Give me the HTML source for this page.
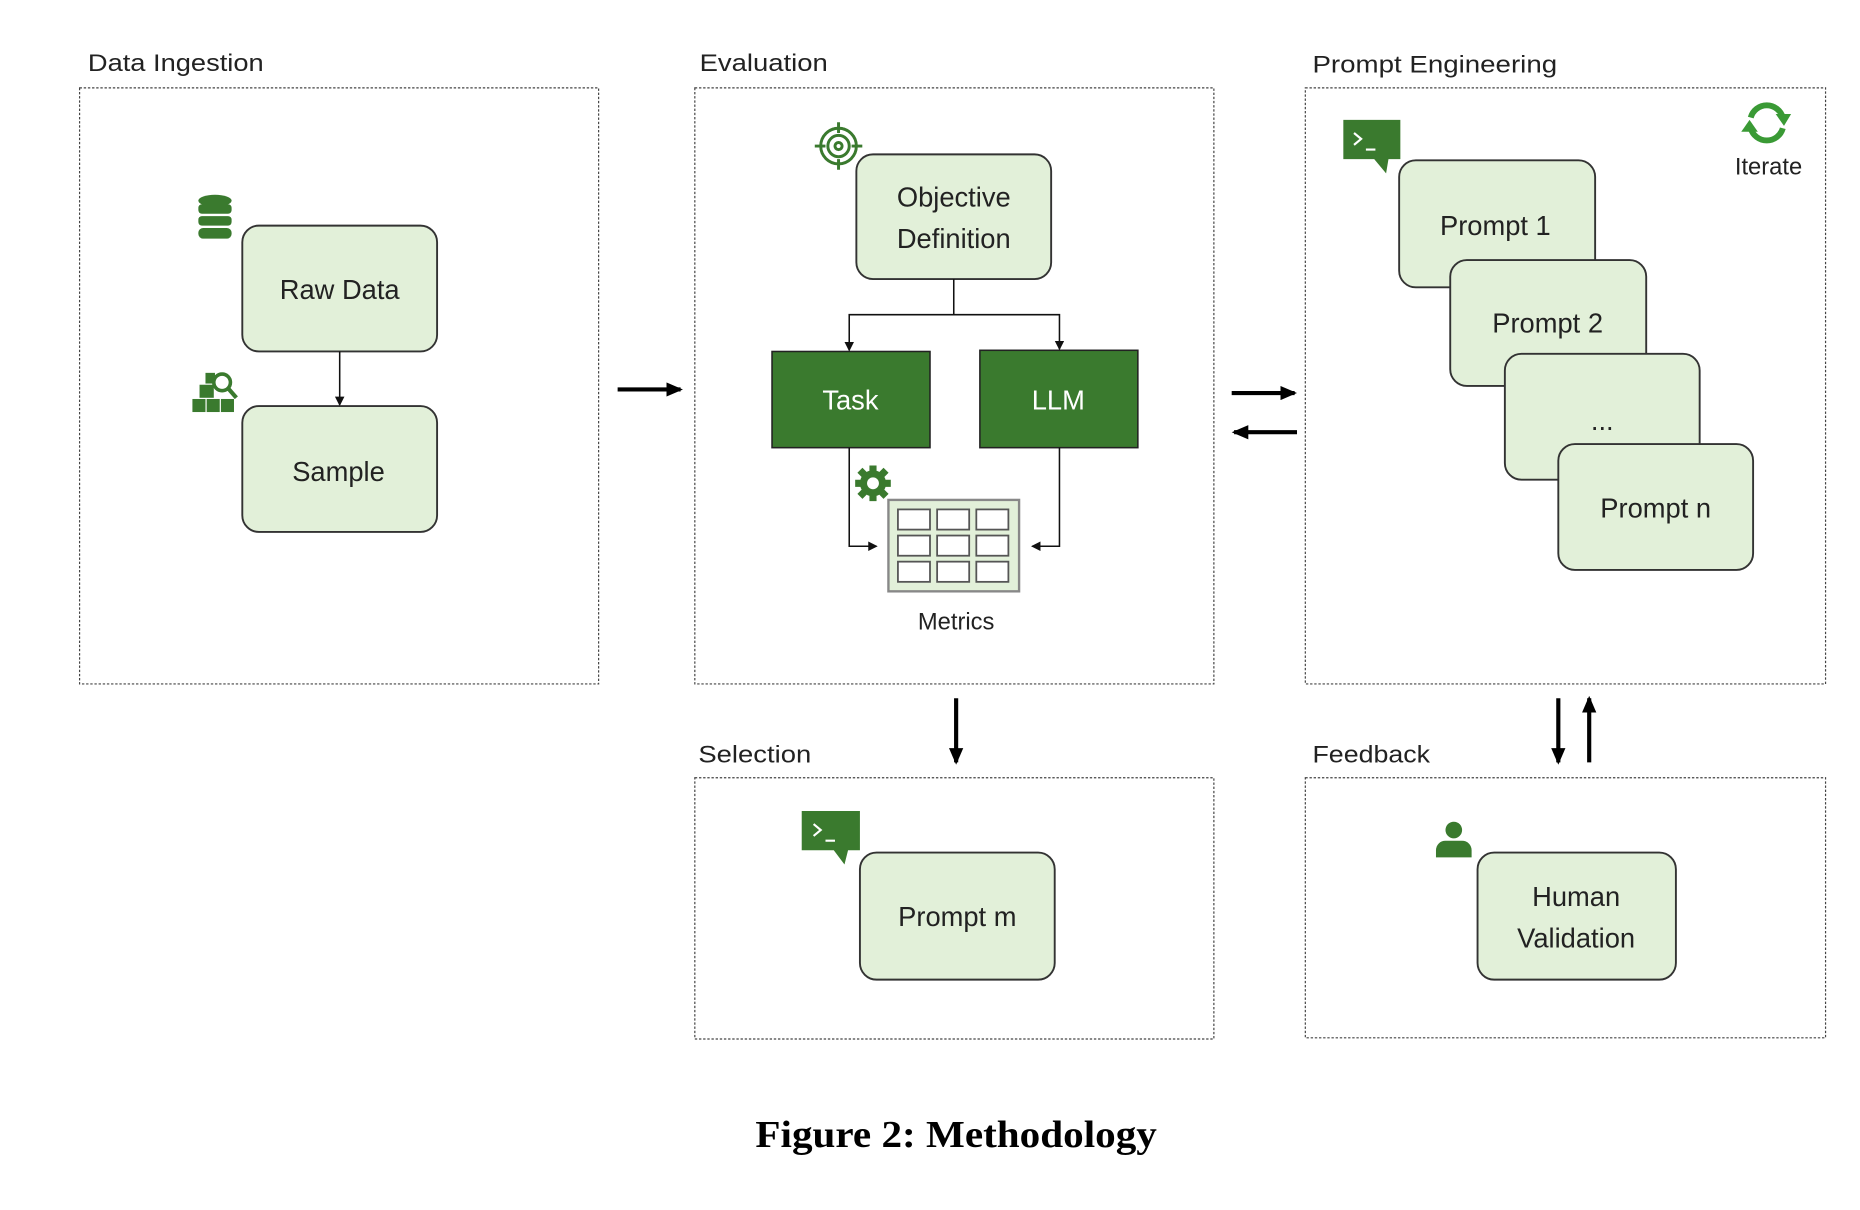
<!DOCTYPE html>
<html><head><meta charset="utf-8"><style>
html,body{margin:0;padding:0;background:#fff;}
svg{display:block;}
</style></head><body>
<svg width="1860" height="1210" viewBox="0 0 1566 1019" preserveAspectRatio="none" xmlns="http://www.w3.org/2000/svg" font-family="Liberation Sans, sans-serif">
<defs>
<marker id="a" markerWidth="8" markerHeight="8" refX="7" refY="4" orient="auto" markerUnits="userSpaceOnUse"><path d="M0,0 L8,4 L0,8 z" fill="#111"/></marker>
<marker id="b" markerWidth="14" markerHeight="12" refX="12" refY="6" orient="auto" markerUnits="userSpaceOnUse"><path d="M0,0 L14,6 L0,12 z" fill="#000"/></marker>
</defs>
<g fill="none" stroke="#444" stroke-width="1" stroke-dasharray="2,1.5">
<rect x="67" y="74" width="437" height="502"/>
<rect x="585" y="74" width="437" height="502"/>
<rect x="1099" y="74" width="438" height="502"/>
<rect x="585" y="655" width="437" height="220"/>
<rect x="1099" y="655" width="438" height="219"/>
</g>
<g font-size="20" fill="#222" textLength="">
<text x="74" y="60" textLength="148" lengthAdjust="spacingAndGlyphs">Data Ingestion</text>
<text x="589" y="60" textLength="108" lengthAdjust="spacingAndGlyphs">Evaluation</text>
<text x="1105" y="61" textLength="206" lengthAdjust="spacingAndGlyphs">Prompt Engineering</text>
<text x="588" y="642" textLength="95" lengthAdjust="spacingAndGlyphs">Selection</text>
<text x="1105" y="642" textLength="99" lengthAdjust="spacingAndGlyphs">Feedback</text>
</g>
<g fill="#e2f0d9" stroke="#333" stroke-width="1.6">
<rect x="204" y="190" width="164" height="106" rx="14"/>
<rect x="204" y="342" width="164" height="106" rx="14"/>
<rect x="721" y="130" width="164" height="105" rx="14"/>
<rect x="1178" y="135" width="165" height="107" rx="14"/>
<rect x="1221" y="219" width="165" height="106" rx="14"/>
<rect x="1267" y="298" width="164" height="106" rx="14"/>
<rect x="1312" y="374" width="164" height="106" rx="14"/>
<rect x="724" y="718" width="164" height="107" rx="14"/>
<rect x="1244" y="718" width="167" height="107" rx="14"/>
</g>
<rect x="650" y="296" width="133" height="81" fill="#3a7a2e" stroke="#222" stroke-width="1.3"/>
<rect x="825" y="295" width="133" height="82" fill="#3a7a2e" stroke="#222" stroke-width="1.3"/>
<g font-size="23" fill="#222" text-anchor="middle">
<text x="286" y="252">Raw Data</text>
<text x="285" y="405">Sample</text>
<text x="803" y="174">Objective</text>
<text x="803" y="209">Definition</text>
<text x="1259" y="198">Prompt 1</text>
<text x="1303" y="280">Prompt 2</text>
<text x="1349" y="362">...</text>
<text x="1394" y="436">Prompt n</text>
<text x="806" y="780">Prompt m</text>
<text x="1327" y="763">Human</text>
<text x="1327" y="798">Validation</text>
<text x="716" y="345" fill="#fff">Task</text>
<text x="891" y="345" fill="#fff">LLM</text>
</g>
<text x="805" y="530" font-size="20" fill="#222" text-anchor="middle">Metrics</text>
<text x="1489" y="147" font-size="20" fill="#222" text-anchor="middle">Iterate</text>
<g stroke="#111" stroke-width="1.3" fill="none" marker-end="url(#a)">
<path d="M286,296 V341"/>
<path d="M803,235 V265 H715 V295"/>
<path d="M803,265 H892 V294"/>
<path d="M715,377 V460 H738"/>
<path d="M892,377 V460 H869"/>
</g>
<g stroke="#000" stroke-width="3.5" fill="none" marker-end="url(#b)">
<path d="M520,328 H573"/>
<path d="M1037,331 H1090"/>
<path d="M1092,364 H1039"/>
<path d="M805,588 V642"/>
<path d="M1312,588 V642"/>
<path d="M1338,642 V588"/>
</g>
<rect x="748" y="421" width="110" height="77" fill="#e2f0d9" stroke="#888" stroke-width="2"/>
<g fill="#fff" stroke="#555" stroke-width="1.5">
<rect x="756" y="429" width="27" height="17"/><rect x="789" y="429" width="27" height="17"/><rect x="822" y="429" width="27" height="17"/>
<rect x="756" y="451" width="27" height="17"/><rect x="789" y="451" width="27" height="17"/><rect x="822" y="451" width="27" height="17"/>
<rect x="756" y="473" width="27" height="17"/><rect x="789" y="473" width="27" height="17"/><rect x="822" y="473" width="27" height="17"/>
</g>
<g fill="#3a7a2e">
<circle cx="735" cy="407" r="11"/>
<g stroke="#3a7a2e" stroke-width="6"><path d="M735,392 V422 M720,407 H750 M724,396 L746,418 M746,396 L724,418"/></g>
<circle cx="735" cy="407" r="5" fill="#fff"/>
</g>
<g stroke="#3a7a2e" stroke-width="2.5" fill="none">
<circle cx="706" cy="123" r="15"/><circle cx="706" cy="123" r="9"/><circle cx="706" cy="123" r="3"/>
<path d="M706,103 V112 M706,134 V143 M686,123 H695 M717,123 H726"/>
</g>
<g fill="#3a7a2e">
<ellipse cx="181" cy="169" rx="14" ry="5"/>
<rect x="167" y="172" width="28" height="8" rx="3"/>
<rect x="167" y="182" width="28" height="8" rx="3"/>
<rect x="167" y="192" width="28" height="9" rx="4"/>
</g>
<g fill="#3a7a2e">
<rect x="162" y="336" width="11" height="11"/><rect x="174" y="336" width="11" height="11"/><rect x="186" y="336" width="11" height="11"/>
<rect x="168" y="324" width="12" height="11"/><rect x="173" y="314" width="8" height="9"/>
</g>
<circle cx="187" cy="322" r="7" fill="none" stroke="#3a7a2e" stroke-width="3"/>
<path d="M192,327 L199,335" stroke="#3a7a2e" stroke-width="3.5"/>
<path d="M1131,101 h48 v33 h-10 l-2,12 -10,-12 h-26 z" fill="#3a7a2e"/>
<path d="M1140,112 l6,5 -6,5 M1150,126 h8" stroke="#fff" stroke-width="1.8" fill="none"/>
<path d="M675,683 h49 v33 h-10 l-3,12 -9,-12 h-27 z" fill="#3a7a2e"/>
<path d="M685,694 l6,5 -6,5 M695,708 h8" stroke="#fff" stroke-width="1.8" fill="none"/>
<g stroke="#3a9a35" stroke-width="5" fill="none">
<path d="M1474,99 A14,14 0 0 1 1501,99"/>
<path d="M1501,108 A14,14 0 0 1 1474,108"/>
</g>
<path d="M1495,96 L1508,96 L1502,106 z" fill="#3a9a35"/>
<path d="M1466,111 L1480,111 L1473,101 z" fill="#3a9a35"/>
<g fill="#3a7a2e">
<circle cx="1224" cy="699" r="7"/>
<path d="M1209,722 v-6 a8,8 0 0 1 8,-8 h14 a8,8 0 0 1 8,8 v6 z"/>
</g>
<text x="805" y="966" style="font-family:'Liberation Serif',serif;font-weight:bold;font-size:32px" text-anchor="middle" fill="#000" textLength="338" lengthAdjust="spacingAndGlyphs">Figure 2: Methodology</text>
</svg>
</body></html>
